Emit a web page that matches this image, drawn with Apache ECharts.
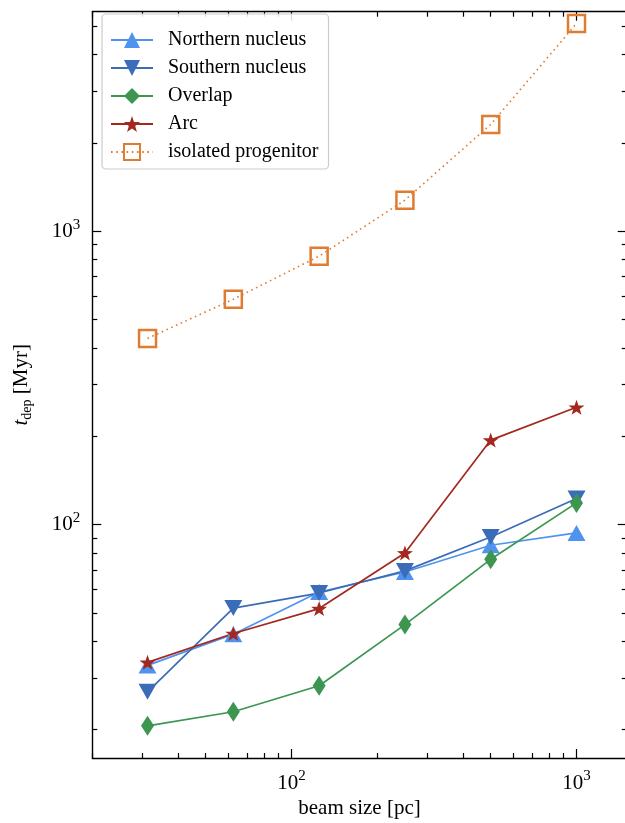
<!DOCTYPE html>
<html>
<head>
<meta charset="utf-8">
<script src="https://cdn.jsdelivr.net/npm/echarts@6/dist/echarts.min.js"></script>
<style>html,body{margin:0;padding:0;background:#fff}#c{width:625px;height:823px}</style>
</head>
<body>
<div id="c"></div>
<script>
const beamSize = [31.25, 62.5, 125, 250, 500, 1000];
const northern = [33.1, 42.3, 58.9, 68.9, 85.0, 93.6];
const southern = [26.9, 51.9, 58.4, 69.5, 90.7, 122.6];
const overlap = [20.6, 23.0, 28.2, 45.6, 76.1, 118.5];
const arc = [33.9, 42.5, 51.7, 80.0, 194, 251];
const isolated = [431, 586, 822, 1276, 2311, 5105];

const xMajorTicks = [100, 1000];
const xMinorTicks = [20, 30, 40, 50, 60, 70, 80, 90, 200, 300, 400, 500, 600, 700, 800, 900];
const yMajorTicks = [100, 1000];
const yMinorTicks = [20, 30, 40, 50, 60, 70, 80, 90, 200, 300, 400, 500, 600, 700, 800, 900, 2000, 3000, 4000, 5000];

const FONT = 'Liberation Serif';
const pairs = ys => beamSize.map((x, i) => [x, ys[i]]);
const labelRich = {
  base: {fontSize: 21, fontFamily: FONT, color: '#000', lineHeight: 28},
  sup: {fontSize: 15, fontFamily: FONT, color: '#000', verticalAlign: 'top', lineHeight: 15}
};

function axis(kind, pos, ticks, len, main) {
  const isX = kind === 'x';
  return {
    type: 'log', logBase: 10,
    min: isX ? 20 : 16, max: isX ? 1500 : 5600,
    position: pos,
    axisLine: {show: main, onZero: false, lineStyle: {color: '#000', width: 1.4}},
    axisTick: {show: true, inside: true, length: len, customValues: ticks, lineStyle: {color: '#000', width: 1.2}},
    axisLabel: {
      show: main && (pos === 'bottom' || pos === 'left'),
      customValues: isX ? xMajorTicks : yMajorTicks,
      formatter: v => '{base|10}{sup|' + Math.round(Math.log10(v)) + '}',
      rich: labelRich, margin: isX ? 11 : 12
    },
    splitLine: {show: false},
    minorTick: {show: false}
  };
}

const xAxes = [
  Object.assign(axis('x', 'bottom', xMajorTicks, 9, true), {
    name: 'beam size [pc]', nameLocation: 'middle', nameGap: 39,
    nameTextStyle: {fontFamily: FONT, fontSize: 21, color: '#000'}
  }),
  axis('x', 'bottom', xMinorTicks, 5, false),
  axis('x', 'top', xMajorTicks, 9, true),
  axis('x', 'top', xMinorTicks, 5, false)
];
const yAxes = [
  Object.assign(axis('y', 'left', yMajorTicks, 9, true), {
    name: '{it|t}{sub|dep}{txt| [Myr]}', nameLocation: 'middle', nameGap: 58, nameRotate: 90,
    nameTextStyle: {
      fontFamily: FONT, fontSize: 21, color: '#000',
      rich: {
        it: {fontFamily: FONT, fontSize: 21, fontStyle: 'italic', color: '#000', lineHeight: 26},
        sub: {fontFamily: FONT, fontSize: 14, color: '#000', verticalAlign: 'bottom', lineHeight: 14},
        txt: {fontFamily: FONT, fontSize: 21, color: '#000', lineHeight: 26}
      }
    }
  }),
  axis('y', 'left', yMinorTicks, 5, false),
  axis('y', 'right', yMajorTicks, 9, true),
  axis('y', 'right', yMinorTicks, 5, false)
];

const STAR = 'path://M0,-10L2.35,-3.24L9.51,-3.09L3.8,1.24L5.88,8.09L0,4L-5.88,8.09L-3.8,1.24L-9.51,-3.09L-2.35,-3.24Z';
const TRI_DOWN = 'path://M-1,-1L1,-1L0,1Z';
const TRI_UP = 'path://M-1,1L1,1L0,-1Z';
const DIAMOND = 'path://M0,-1L0.6,0L0,1L-0.6,0Z';

function lineSeries(name, data, color, symbol, size, extra) {
  return Object.assign({
    name, type: 'line', data: pairs(data),
    xAxisIndex: 0, yAxisIndex: 0,
    symbol, symbolSize: size, showSymbol: true,
    lineStyle: {color, width: 1.7},
    itemStyle: {color},
    emphasis: {disabled: true},
    animation: false
  }, extra || {});
}

const series = [
  lineSeries('Northern nucleus', northern, '#4f93ef', TRI_UP, [18, 16]),
  lineSeries('Southern nucleus', southern, '#3a6cb7', TRI_DOWN, [18, 16]),
  lineSeries('Overlap', overlap, '#3c9650', DIAMOND, [13, 20]),
  lineSeries('Arc', arc, '#a3291f', STAR, [16, 15]),
  lineSeries('isolated progenitor', isolated, '#e07b32', 'rect', 17, {
    lineStyle: {color: '#e07b32', width: 1.6, type: [1.6, 3.6]},
    itemStyle: {color: 'rgba(255,255,255,0)', borderColor: '#e07b32', borderWidth: 2.5}
  })
];

const chart = echarts.init(document.getElementById('c'), null, {renderer: 'canvas'});
chart.setOption({
  animation: false,
  backgroundColor: '#fff',
  grid: {left: 92.3, top: 11.7, right: -1.7, bottom: 65, containLabel: false, outerBoundsMode: 'none'},
  xAxis: xAxes,
  yAxis: yAxes,
  legend: {
    orient: 'vertical', left: 102, top: 14,
    itemWidth: 42, itemHeight: 20, itemGap: 8,
    padding: [16, 10, 7, 8],
    backgroundColor: 'rgba(255,255,255,0.85)', borderColor: '#cccccc', borderWidth: 1.2, borderRadius: 4,
    textStyle: {fontFamily: FONT, fontSize: 20, color: '#000', padding: [0, 0, 0, 10], lineHeight: 20},
    data: series.map(s => s.name)
  },
  series
});
</script>
</body>
</html>
